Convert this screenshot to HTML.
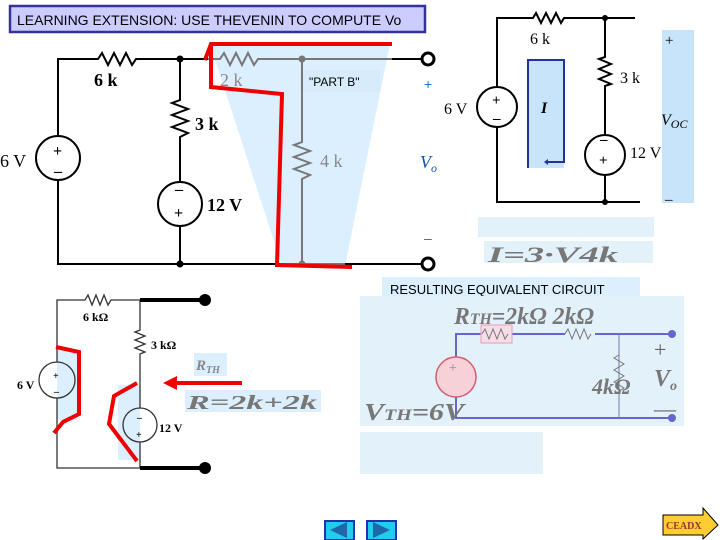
<!DOCTYPE html>
<html><head><meta charset="utf-8"><style>
html,body{margin:0;padding:0;background:#fff;width:720px;height:540px;overflow:hidden}
svg{display:block}
text{font-family:"Liberation Serif",serif}
.s{font-family:"Liberation Sans",sans-serif}
</style></head><body>
<svg width="720" height="540" viewBox="0 0 720 540" xmlns="http://www.w3.org/2000/svg">
<!-- title -->
<rect x="10" y="6" width="415" height="26" fill="#ccccff" stroke="#333399" stroke-width="2.5"/>
<text class="s" x="17" y="25" font-size="14" fill="#000">LEARNING EXTENSION: USE THEVENIN TO COMPUTE Vo</text>

<!-- top-left circuit shaded region -->
<polygon points="210,44 390,44 345,266 282,266" fill="#dcefff"/>
<rect x="300" y="70" width="80" height="22" fill="#d6ecfa"/>
<g stroke="#000" stroke-width="2" fill="none">
<path d="M58,136 V59 H98 l4,-6 6,12 6,-12 6,12 6,-12 6,12 4,-6 H208"/>
<path d="M58,180 V264 H280"/>
<path d="M180,59 V100 l-8,3 16,6 -16,6 16,6 -16,6 16,6 -8,4 V182"/>
<path d="M180,226 V264"/>
<circle cx="58" cy="158" r="22"/>
<circle cx="180" cy="204" r="22"/>
<path d="M345,264 H421 M392,59 H421"/>
</g>
<g stroke="#777" stroke-width="2" fill="none">
<path d="M208,59 H220 l4,-6 6,12 6,-12 6,12 6,-12 6,12 4,-6 H392"/>
<path d="M302,59 V142 l-8,3 16,6 -16,6 16,6 -16,6 16,6 -8,4 V264"/>
<path d="M280,264 H345"/>
</g>
<circle cx="180" cy="59" r="3.5"/><circle cx="180" cy="264" r="3.5"/>
<circle cx="302" cy="59" r="3.5" fill="#777"/><circle cx="302" cy="264" r="3.5" fill="#777"/>
<circle cx="428" cy="59" r="6" fill="#fff" stroke="#000" stroke-width="3"/>
<circle cx="428" cy="264" r="6" fill="#fff" stroke="#000" stroke-width="3"/>
<g font-size="18" font-weight="bold" fill="#000">
<text x="94" y="86">6 k</text>
<text x="195" y="130">3 k</text>
<text x="0" y="167" font-weight="normal">6 V</text>
<text x="207" y="211">12 V</text>
</g>
<text x="220" y="86" font-size="18" fill="#888">2 k</text>
<text x="320" y="167" font-size="18" fill="#888">4 k</text>
<text class="s" x="309" y="86" font-size="12">"PART B"</text>
<text class="s" x="424" y="89" font-size="14" fill="#1177cc">+</text>
<text x="420" y="168" font-size="18" font-style="italic" fill="#1155aa">V<tspan font-size="12" dy="4">o</tspan></text>
<text class="s" x="424" y="243" font-size="14" fill="#1177cc">–</text>
<g font-size="16" font-weight="bold" fill="#000"><text x="53" y="156">+</text><text x="54" y="176">–</text><text x="175" y="194">–</text><text x="174" y="218">+</text></g>
<!-- red outline -->
<path d="M205,60 L211,44 H392 M211,45 V87 L282,94 L277,265 L352,267" fill="none" stroke="#e00" stroke-width="4"/>

<!-- top-right circuit -->
<rect x="662" y="30" width="32" height="173" fill="#c8e4fa"/>
<rect x="528" y="60" width="36" height="108" fill="#c8e4fa"/>
<path d="M528,168 V60 H564 V162 H548" fill="none" stroke="#223399" stroke-width="2"/>
<path d="M548,159 l-4,3 4,3z" fill="#223399"/>
<g stroke="#000" stroke-width="2" fill="none">
<path d="M497,87 V18 H533 l3,-5 5,10 5,-10 5,10 5,-10 5,10 3,-5 H635"/>
<path d="M497,127 V202 H640"/>
<path d="M605,18 V57 l-6,2 12,5 -12,5 12,5 -12,5 12,5 -6,2 V135"/>
<path d="M605,175 V202"/>
<circle cx="497" cy="107" r="20"/>
<circle cx="605" cy="155" r="20"/>
</g>
<circle cx="605" cy="18" r="3"/><circle cx="605" cy="202" r="3"/>
<g font-size="16" fill="#000">
<text x="530" y="44">6 k</text><text x="620" y="83">3 k</text><text x="444" y="114">6 V</text><text x="630" y="158">12 V</text>
<text x="665" y="45" font-size="15">+</text><text x="665" y="204" font-size="15">–</text>
<text x="661" y="125" font-style="italic">V<tspan font-size="12" dy="3">OC</tspan></text>
<text x="541" y="113" font-style="italic" font-weight="bold">I</text>
</g>
<g font-size="15" font-weight="bold"><text x="492" y="105">+</text><text x="493" y="123">–</text><text x="600" y="144">–</text><text x="599" y="165">+</text></g>
<rect x="478" y="217" width="176" height="20" fill="#e3f1fb"/>
<rect x="484" y="241" width="169" height="22" fill="#e3f1fb"/>
<text x="488" y="262" font-size="22" font-weight="bold" font-style="italic" fill="#777" textLength="130" lengthAdjust="spacingAndGlyphs">I=3·V4k</text>

<!-- bottom-left circuit -->
<rect x="57" y="350" width="20" height="70" fill="#dcefff"/>
<rect x="118" y="385" width="22" height="75" fill="#dcefff"/>
<g stroke="#333" stroke-width="1.3" fill="none">
<path d="M57,362 V300 H85 l3,-5 4,10 4,-10 4,10 4,-10 4,10 3,-5 H140 V330 l-5,2 10,4 -10,4 10,4 -10,4 10,4 -5,2 V408"/>
<path d="M57,398 V468 H140 V442"/>
<circle cx="57" cy="380" r="18"/><circle cx="140" cy="425" r="17"/>
</g>
<path d="M140,300 H205 M140,468 H205" stroke="#000" stroke-width="4"/>
<circle cx="205" cy="300" r="6"/><circle cx="205" cy="468" r="6"/>
<g font-size="12" font-weight="bold"><text x="83" y="321">6 kΩ</text><text x="151" y="349">3 kΩ</text><text x="17" y="389">6 V</text><text x="159" y="432">12 V</text>
<text x="53" y="379" font-size="10">+</text><text x="54" y="395" font-size="10">–</text><text x="137" y="421" font-size="10">–</text><text x="136" y="438" font-size="10">+</text></g>
<path d="M56,347 L79,352 V414 L63,422 L54,433 M137,383 L114,396 L109,424 L137,461" fill="none" stroke="#e00" stroke-width="4"/>
<path d="M242,383 H175" stroke="#e00" stroke-width="4"/><path d="M163,383 L177,376 V390z" fill="#e00"/>
<rect x="194" y="353" width="33" height="23" fill="#dcefff"/>
<text x="196" y="370" font-size="15" font-weight="bold" font-style="italic" fill="#888">R<tspan font-size="10" dy="3">TH</tspan></text>
<rect x="185" y="390" width="136" height="22" fill="#dcefff"/>
<text x="187" y="409" font-size="20" font-weight="bold" font-style="italic" fill="#777" textLength="130" lengthAdjust="spacingAndGlyphs">R=2k+2k</text>

<!-- equivalent circuit -->
<rect x="382" y="277" width="258" height="22" fill="#dcefff"/>
<text class="s" x="390" y="294" font-size="13">RESULTING EQUIVALENT CIRCUIT</text>
<rect x="360" y="296" width="324" height="130" fill="#e3f1fb"/>
<rect x="360" y="432" width="183" height="42" fill="#e3f1fb"/>
<g stroke="#6666cc" stroke-width="2" fill="none">
<path d="M456,357 V334 H482 M512,334 H565 M595,334 H672"/>
<path d="M456,397 V418 H672"/>
<path d="M619,334 V418" stroke="#7777aa" stroke-width="1"/>
</g>
<rect x="481" y="325" width="31" height="18" fill="#f6dde8" stroke="#e0a0b8"/>
<path d="M482,334 l3,-5 4,10 4,-10 4,10 4,-10 4,10 3,-5 M565,334 l3,-5 4,10 4,-10 4,10 4,-10 4,10 3,-5 M619,355 l-5,3 10,6 -10,6 10,6 -10,6 10,6 -5,3" stroke="#777" stroke-width="1" fill="none"/>
<circle cx="456" cy="377" r="20" fill="#f8d0d8" stroke="#d06070" stroke-width="1.5"/>
<text x="449" y="372" font-size="14" fill="#888">+</text>
<circle cx="672" cy="334" r="4" fill="#6666cc"/><circle cx="672" cy="418" r="4" fill="#6666cc"/>
<g fill="#777" font-style="italic" font-weight="bold">
<text x="454" y="324" font-size="24" textLength="140" lengthAdjust="spacingAndGlyphs">R<tspan font-size="16">TH</tspan>=2kΩ 2kΩ</text>
<text x="592" y="394" font-size="22">4kΩ</text>
<text x="364" y="420" font-size="24" textLength="100" lengthAdjust="spacingAndGlyphs">V<tspan font-size="16">TH</tspan>=6V</text>
<text x="654" y="386" font-size="24">V<tspan font-size="14" dy="4">o</tspan></text>
</g>
<text x="654" y="357" font-size="22" fill="#666">+</text>
<text x="654" y="416" font-size="22" fill="#666">—</text>

<!-- nav buttons -->
<rect x="325" y="521" width="29" height="19" fill="#22ccee" stroke="#2233aa" stroke-width="2"/>
<path d="M330,530 L347,522 V538z" fill="#2266aa"/>
<rect x="367" y="521" width="29" height="19" fill="#22ccee" stroke="#2233aa" stroke-width="2"/>
<path d="M390,530 L373,522 V538z" fill="#2266aa"/>
<path d="M663,515 H703 V508 L718,525 L703,539 V535 H663z" fill="#ffcc33" stroke="#000" stroke-width="1"/>
<text x="666" y="529" font-size="10" font-weight="bold" fill="#993333">CEADX</text>
</svg>
</body></html>
